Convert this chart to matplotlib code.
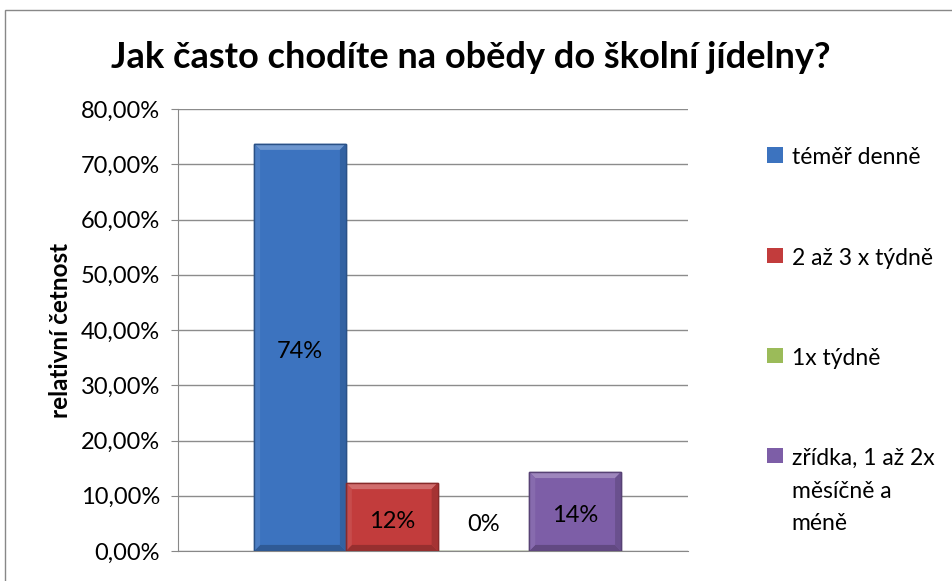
import matplotlib.pyplot as plt
import matplotlib.patches as mpatches
from matplotlib.colors import to_rgb
from matplotlib.ticker import FuncFormatter

plt.rcParams['font.family'] = ['Lato', 'DejaVu Sans']

title = 'Jak často chodíte na obědy do školní jídelny?'
ylabel = 'relativní četnost'
series = ['téměř denně', '2 až 3 x týdně', '1x týdně', 'zřídka, 1 až 2x\nměsíčně a\nméně']
values = [73.7, 12.3, 0.0, 14.3]
labels = ['74%', '12%', '0%', '14%']
colors = ['#3c73bf', '#c23c3c', '#9bbb59', '#7d5ea7']


def shade(c, f):
    r, g, b = to_rgb(c)
    if f > 1:
        return tuple(x + (1 - x) * (f - 1) for x in (r, g, b))
    return tuple(x * f for x in (r, g, b))


fig = plt.figure(figsize=(9.53, 5.81), dpi=100)
# outer chart border
fig.patches.append(mpatches.Rectangle((5/953, -0.1), 1.1, 1 - 10/581 + 0.1, transform=fig.transFigure,
                                      fill=False, edgecolor='#888888', lw=1.0))

ax = fig.add_axes([178/953, 1 - 551/581, (688 - 178)/953, (551 - 109)/581])

offsets = [-1.5, -0.5, 0.5, 1.5]
bars = []
for off, v, c, s in zip(offsets, values, colors, series):
    b = ax.bar(off, v, width=1.0, color=c, edgecolor=shade(c, 0.7), linewidth=1.0, label=s, zorder=3)
    bars.append(b)

ax.set_xlim(-2.83, 2.73)
ax.set_ylim(0, 80)

# bevel look of the bars
bx = 0.065
by = 1.1
for b, c in zip(bars, colors):
    r = b[0]
    x0, y0, w, h = r.get_x(), r.get_y(), r.get_width(), r.get_height()
    if h <= 0:
        continue
    x1, y1 = x0 + w, y0 + h
    dy = min(by, h / 2)
    pieces = [
        ([(x0, y1), (x1, y1), (x1 - bx, y1 - dy), (x0 + bx, y1 - dy)], shade(c, 1.25)),
        ([(x0, y0), (x1, y0), (x1 - bx, y0 + dy), (x0 + bx, y0 + dy)], shade(c, 0.78)),
        ([(x0, y0), (x0, y1), (x0 + bx, y1 - dy), (x0 + bx, y0 + dy)], shade(c, 1.08)),
        ([(x1, y0), (x1, y1), (x1 - bx, y1 - dy), (x1 - bx, y0 + dy)], shade(c, 0.85)),
    ]
    for pts, col in pieces:
        ax.add_patch(mpatches.Polygon(pts, closed=True, facecolor=col, edgecolor='none', zorder=3.5))
    ax.add_patch(mpatches.Rectangle((x0, y0), w, h, fill=False, edgecolor=shade(c, 0.7), lw=1.0, zorder=3.6))

for b, v, lab in zip(bars, values, labels):
    rect = b[0]
    x = rect.get_x() + rect.get_width()/2
    if v > 0:
        ax.annotate(lab, (x, v/2), xytext=(0, -3), textcoords='offset points',
                    ha='center', va='center', fontsize=17, zorder=4)
    else:
        ax.annotate(lab, (x, 0), xytext=(0, 19), textcoords='offset points',
                    ha='center', va='center', fontsize=17)

ax.set_yticks(range(0, 81, 10))
ax.yaxis.set_major_formatter(FuncFormatter(lambda v, p: f'{v:.2f}'.replace('.', ',') + '%'))
ax.tick_params(axis='y', labelsize=17, length=5, color='#888888', pad=8)
ax.set_xticks([])
ax.grid(axis='y', color='#8c8c8c', lw=1.0, zorder=0)
for sp in ['top', 'right']:
    ax.spines[sp].set_visible(False)
for sp in ['left', 'bottom']:
    ax.spines[sp].set_color('#888888')

ax.set_ylabel(ylabel, fontsize=17.5, fontweight='bold', labelpad=6)
fig.text(471/953, 1 - 58/581, title, ha='center', va='center', fontsize=26, fontweight='bold')

leg = fig.legend(loc='upper left', bbox_to_anchor=(756/953, 1 - 136/581), frameon=False,
                 fontsize=16.5, labelspacing=3.45, handlelength=0.66, handleheight=0.66,
                 handletextpad=0.4, borderpad=0)
for t in leg.texts:
    t.set_linespacing(1.7)
# marker next to the first line of a wrapped label
for item in leg._legend_handle_box.get_children()[0].get_children():
    item.align = 'top'
for h in leg.legend_handles:
    h.set_edgecolor('none')

fig.savefig('out.png', dpi=100)
